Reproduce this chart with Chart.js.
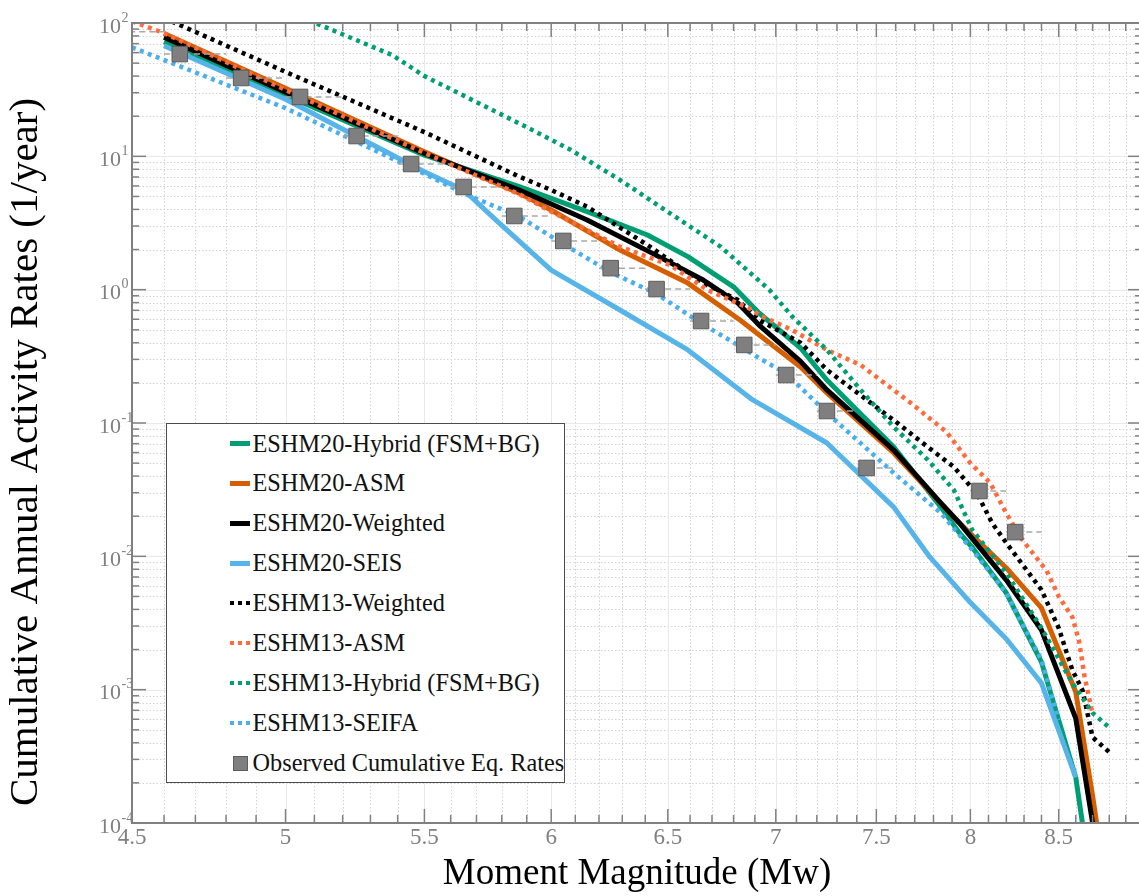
<!DOCTYPE html>
<html><head><meta charset="utf-8">
<script src="https://cdn.jsdelivr.net/npm/chart.js@4/dist/chart.umd.min.js"></script>
<style>
html,body{margin:0;padding:0;overflow:hidden;background:#fff;width:1139px;height:896px;}
#wrap{position:relative;width:1160px;height:896px;}
#c{position:absolute;left:0;top:0;}
#legend{position:absolute;left:166px;top:423px;width:397px;height:358px;border:1.5px solid #4d4d4d;background:#fff;font-family:"Liberation Serif","Times New Roman",serif;font-size:24.3px;color:#111;}
.row{position:absolute;left:0;height:40px;line-height:40px;white-space:nowrap;width:100%;}
.sample{position:absolute;left:62.5px;width:20px;}
.lbl{position:absolute;left:85.5px;top:0;}
</style></head>
<body><div id="wrap"><canvas id="c" width="1160" height="896"></canvas><div id="legend"></div></div>
<script>
// ---------- data ----------
const xTickValues = [4.5, 5, 5.5, 6, 6.5, 7, 7.5, 8, 8.5];
const yTickExponents = [-4, -3, -2, -1, 0, 1, 2];

const seriesNames = ['ESHM20-Hybrid (FSM+BG)', 'ESHM20-ASM', 'ESHM20-Weighted', 'ESHM20-SEIS',
  'ESHM13-Weighted', 'ESHM13-ASM', 'ESHM13-Hybrid (FSM+BG)', 'ESHM13-SEIFA'];
const obsName = 'Observed Cumulative Eq. Rates';

const hyb20M = [4.6, 5.0, 5.5, 5.87, 6.0, 6.15, 6.41, 6.59, 6.80, 6.92, 7.12, 7.25, 7.59, 7.84, 7.94, 8.01, 8.2, 8.4, 8.6, 8.7];
const hyb20R = [72.4, 28.7, 10.2, 5.92, 4.84, 3.85, 2.57, 1.77, 1.05, 0.668, 0.365, 0.21, 0.066, 0.0234, 0.015, 0.0117, 0.0053, 0.00161, 2.2e-4, 3e-5];

const asm20M = [4.6, 5.0, 5.5, 5.87, 6.0, 6.29, 6.59, 6.83, 7.12, 7.25, 7.59, 7.94, 8.2, 8.4, 8.6, 8.7, 8.75];
const asm20R = [83.5, 32.4, 10.8, 5.3, 3.96, 1.98, 1.12, 0.592, 0.263, 0.168, 0.0596, 0.0178, 0.00818, 0.0041, 9.6e-4, 1.6e-4, 6e-5];

const w20M = [4.6, 5.0, 5.5, 5.87, 6.0, 6.15, 6.43, 6.66, 6.82, 6.92, 7.12, 7.25, 7.59, 7.84, 7.94, 8.2, 8.4, 8.6, 8.7, 8.75];
const w20R = [78.2, 30.3, 10.5, 5.59, 4.39, 3.33, 1.88, 1.18, 0.794, 0.543, 0.29, 0.177, 0.0627, 0.0251, 0.0178, 0.00664, 0.0028, 6.1e-4, 1e-4, 4e-5];

const seis20M = [4.6, 5.0, 5.5, 5.65, 5.79, 6.0, 6.29, 6.59, 6.89, 7.25, 7.59, 7.78, 8.0, 8.2, 8.4, 8.6];
const seis20R = [67.6, 26.8, 7.67, 5.59, 3.16, 1.40, 0.704, 0.353, 0.149, 0.0708, 0.0234, 0.0099, 0.0045, 0.0024, 0.00112, 2.2e-4];

const w13M = [4.6, 5.0, 5.5, 5.87, 6.0, 6.15, 6.41, 6.66, 6.82, 6.92, 7.12, 7.25, 7.59, 7.77, 7.91, 8.04, 8.12, 8.2, 8.4, 8.5, 8.58, 8.64, 8.7, 8.8];
const w13R = [109, 43, 15.2, 7.04, 5.59, 4.19, 2.16, 1.12, 0.837, 0.592, 0.40, 0.25, 0.105, 0.066, 0.0468, 0.029, 0.0178, 0.0126, 0.0056, 0.0029, 0.0014, 0.00099, 4.4e-4, 3.4e-4];

const asm13M = [4.5, 4.6, 5.0, 5.5, 5.87, 6.0, 6.29, 6.51, 6.68, 6.89, 6.92, 7.08, 7.25, 7.42, 7.68, 7.87, 8.0, 8.11, 8.2, 8.29, 8.43, 8.5, 8.58, 8.62, 8.65, 8.7];
const asm13R = [103, 84, 31.5, 10.6, 5.2, 3.85, 2.1, 1.53, 0.994, 0.704, 0.646, 0.498, 0.353, 0.272, 0.141, 0.0856, 0.050, 0.0355, 0.021, 0.0133, 0.0078, 0.0050, 0.0035, 0.0023, 0.0013, 6.5e-4];

const hyb13M = [5.0, 5.38, 5.5, 5.91, 6.08, 6.29, 6.51, 6.74, 6.97, 7.08, 7.25, 7.42, 7.59, 7.77, 7.91, 8.01, 8.2, 8.4, 8.58, 8.7, 8.8];
const hyb13R = [124, 57.5, 40, 16.2, 11.2, 6.65, 3.74, 2.1, 0.994, 0.627, 0.353, 0.177, 0.0933, 0.0528, 0.0314, 0.0158, 0.0075, 0.0029, 0.00112, 6.7e-4, 5.2e-4];

const seifaM = [4.5, 5.0, 5.5, 5.65, 5.87, 6.05, 6.25, 6.45, 6.65, 6.85, 6.92, 7.05, 7.25, 7.59, 7.84, 8.01, 8.2, 8.4, 8.5];
const seifaR = [65.7, 23, 7.4, 5.28, 3.53, 2.2, 1.35, 0.93, 0.56, 0.36, 0.307, 0.235, 0.119, 0.0422, 0.0211, 0.0112, 0.0053, 0.00167, 5.9e-4];

const obsM = [4.45, 4.65, 4.85, 5.05, 5.25, 5.45, 5.65, 5.85, 6.05, 6.25, 6.45, 6.65, 6.85, 7.05, 7.25, 7.45, 8.05, 8.25];
const obsR = [86, 58.5, 38.7, 27.9, 14.2, 8.76, 5.89, 3.57, 2.32, 1.45, 1.01, 0.582, 0.385, 0.229, 0.123, 0.046, 0.0309, 0.0152];

// ---------- styling ----------
const GREEN = '#009E73', VERM = '#D55E00', BLACK = '#000000', SKY = '#56B4E9';
const ORANGE13 = '#FF6B3D', SKY13 = '#4AAEEF';
const seriesColors = [GREEN, VERM, BLACK, SKY, BLACK, ORANGE13, GREEN, SKY13];
const seriesDotted = [false, false, false, false, true, true, true, true];
const seriesM = [hyb20M, asm20M, w20M, seis20M, w13M, asm13M, hyb13M, seifaM];
const seriesR = [hyb20R, asm20R, w20R, seis20R, w13R, asm13R, hyb13R, seifaR];

const SERIF = '"Liberation Serif","Times New Roman",serif';
const pts = (M, R) => M.map((m, i) => ({x: m, y: R[i]}));

const datasets = seriesNames.map((name, i) => ({
  label: name,
  data: pts(seriesM[i], seriesR[i]),
  borderColor: seriesColors[i],
  backgroundColor: seriesColors[i],
  borderWidth: seriesDotted[i] ? 4.5 : 5,
  borderDash: seriesDotted[i] ? [4, 4.5] : [],
  borderCapStyle: 'butt',
  borderJoinStyle: seriesDotted[i] ? 'miter' : 'round',
  pointRadius: 0, pointHoverRadius: 0,
  tension: 0, fill: false, clip: 0
}));
// observed bin lines (dashed) and squares
const obsLine = [];
obsM.forEach((m, i) => { obsLine.push({x: m - 0.05, y: obsR[i]}, {x: m + 0.15, y: obsR[i]}, {x: m + 0.15, y: null}); });
datasets.push({
  label: 'obs-bins', data: obsLine, borderColor: '#a8a8a8', borderWidth: 1.5, borderDash: [6, 4],
  pointRadius: 0, spanGaps: false, fill: false, clip: 0
});
datasets.push({
  label: obsName, data: pts(obsM, obsR), showLine: false, pointStyle: 'rect', pointRadius: 11,
  pointHoverRadius: 11, backgroundColor: '#7f7f7f', borderColor: '#5c5c5c', borderWidth: 1, clip: 0
});
const N = datasets.length;
datasets.forEach((d, i) => { d.order = N - 1 - i; });

// ---------- decoration plugin: grid, inward ticks, box, y labels, y title ----------
const xMinor = [], yMinor = [];
for (let k = 46; k <= 89; k++) { if (k % 5 !== 0) xMinor.push(k / 10); }
for (let e = -4; e < 2; e++) { for (let k = 2; k <= 9; k++) yMinor.push(k * Math.pow(10, e)); }
const yMajor = yTickExponents.map(e => Math.pow(10, e));

const decor = {
  id: 'decor',
  beforeDatasetsDraw(chart) {
    const {ctx, chartArea: a, scales: {x, y}} = chart;
    ctx.save();
    ctx.beginPath(); ctx.rect(a.left, a.top, a.right - a.left, a.bottom - a.top); ctx.clip();
    ctx.lineWidth = 1;
    const vl = p => { ctx.beginPath(); ctx.moveTo(p, a.top); ctx.lineTo(p, a.bottom); ctx.stroke(); };
    const hl = p => { ctx.beginPath(); ctx.moveTo(a.left, p); ctx.lineTo(a.right, p); ctx.stroke(); };
    ctx.strokeStyle = '#d2d2d2'; ctx.setLineDash([1.5, 2]);
    xMinor.forEach(v => vl(Math.round(x.getPixelForValue(v)) + 0.5));
    yMinor.forEach(v => hl(Math.round(y.getPixelForValue(v)) + 0.5));
    ctx.setLineDash([]); ctx.strokeStyle = '#e9e9e9';
    xTickValues.forEach(v => vl(Math.round(x.getPixelForValue(v)) + 0.5));
    yMajor.forEach(v => hl(Math.round(y.getPixelForValue(v)) + 0.5));
    ctx.restore();
  },
  afterDatasetsDraw(chart) {
    const {ctx, chartArea: a, scales: {x, y}} = chart;
    ctx.save();
    ctx.strokeStyle = '#808080'; ctx.lineWidth = 1.5; ctx.setLineDash([]);
    const seg = (x1, y1, x2, y2) => { ctx.beginPath(); ctx.moveTo(x1, y1); ctx.lineTo(x2, y2); ctx.stroke(); };
    xTickValues.forEach(v => { const p = x.getPixelForValue(v); seg(p, a.bottom, p, a.bottom - 14); seg(p, a.top, p, a.top + 14); });
    xMinor.forEach(v => { const p = x.getPixelForValue(v); seg(p, a.bottom, p, a.bottom - 8); seg(p, a.top, p, a.top + 8); });
    yMajor.forEach(v => { const p = y.getPixelForValue(v); seg(a.left, p, a.left + 14, p); seg(a.right, p, a.right - 14, p); });
    yMinor.forEach(v => { const p = y.getPixelForValue(v); seg(a.left, p, a.left + 7, p); seg(a.right, p, a.right - 7, p); });
    ctx.lineWidth = 2;
    ctx.strokeRect(a.left, a.top, a.right - a.left, a.bottom - a.top);
    // y tick labels 10^e
    ctx.fillStyle = '#808080'; ctx.textBaseline = 'middle'; ctx.textAlign = 'left';
    yTickExponents.forEach(e => {
      const p = y.getPixelForValue(Math.pow(10, e));
      ctx.font = '22px ' + SERIF;
      const w = ctx.measureText('10').width;
      const x0 = 99;
      ctx.fillText('10', x0, p + 4);
      ctx.font = '14px ' + SERIF;
      ctx.fillText(String(e), x0 + w + 0.5, p - 5);
    });
    // y title
    ctx.fillStyle = '#000'; ctx.font = '41px ' + SERIF; ctx.textAlign = 'center'; ctx.textBaseline = 'middle';
    ctx.translate(26, 452); ctx.rotate(-Math.PI / 2);
    ctx.fillText('Cumulative Annual Activity Rates (1/year)', 0, 0);
    ctx.restore();
  }
};

new Chart(document.getElementById('c'), {
  type: 'line',
  data: {datasets},
  options: {
    responsive: false, animation: false, devicePixelRatio: 1,
    layout: {padding: {left: 0, top: 23, right: 18, bottom: 0}},
    plugins: {legend: {display: false}, tooltip: {enabled: false}},
    events: [],
    scales: {
      x: {
        type: 'logarithmic', min: 4.5, max: 9, position: 'bottom',
        afterBuildTicks: s => { s.ticks = xTickValues.map(v => ({value: v})); },
        afterFit: s => { s.height = 73; },
        ticks: {
          autoSkip: false, maxRotation: 0, minRotation: 0, padding: 1, color: '#808080',
          font: {family: SERIF, size: 23},
          callback: v => String(v)
        },
        grid: {display: false, drawTicks: false}, border: {display: false},
        title: {display: true, text: 'Moment Magnitude (Mw)', color: '#000', font: {family: SERIF, size: 37}, padding: {top: 0, bottom: 0}}
      },
      y: {
        type: 'logarithmic', min: 1e-4, max: 100, position: 'left',
        afterBuildTicks: s => { s.ticks = yMajor.map(v => ({value: v})); },
        afterFit: s => { s.width = 132; },
        ticks: {display: false},
        grid: {display: false, drawTicks: false}, border: {display: false}
      }
    }
  },
  plugins: [decor]
});

// ---------- legend (HTML) ----------
const leg = document.getElementById('legend');
const addRow = (i, name, sampleHTML) => {
  const r = document.createElement('div');
  r.className = 'row'; r.style.top = (-0.5 + 39.9 * i) + 'px';
  r.innerHTML = sampleHTML + '<span class="lbl">' + name + '</span>';
  leg.appendChild(r);
};
seriesNames.forEach((name, i) => {
  const c = seriesColors[i];
  const h = seriesDotted[i] ? 4 : 5;
  const bg = seriesDotted[i] ? `repeating-linear-gradient(to right, ${c} 0 4px, transparent 4px 8px)` : c;
  addRow(i, name, `<div class="sample" style="top:${20 - h / 2}px;height:${h}px;background:${bg};"></div>`);
});
addRow(8, obsName, `<div class="sample" style="left:65.5px;width:13px;height:13px;top:13.5px;background:#7f7f7f;border:1px solid #5c5c5c;"></div>`);
</script></body></html>
